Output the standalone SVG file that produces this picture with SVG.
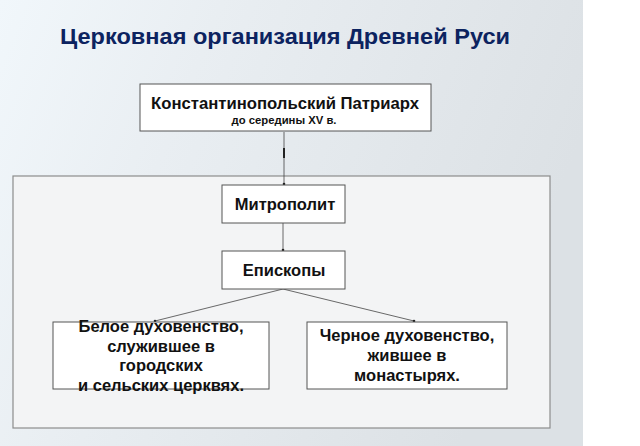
<svg xmlns="http://www.w3.org/2000/svg" width="640" height="446" viewBox="0 0 640 446">
<defs>
<linearGradient id="bg" x1="0" y1="0" x2="1" y2="0.3">
<stop offset="0" stop-color="#f1f7fb"/>
<stop offset="0.35" stop-color="#e9eef2"/>
<stop offset="1" stop-color="#dce1e5"/>
</linearGradient>
<marker id="dot" markerWidth="4" markerHeight="4" refX="2" refY="2" markerUnits="userSpaceOnUse">
<circle cx="2" cy="2" r="1.3" fill="#222"/>
</marker>
<style>
.box{fill:#ffffff;stroke:#555;stroke-width:1}
.t{font-family:"Liberation Sans",Arial,sans-serif;font-weight:bold;fill:#111;text-anchor:middle}
.c{stroke:#444;stroke-width:0.8;fill:none;marker-end:url(#dot)}
</style>
</defs>
<rect x="0" y="0" width="640" height="446" fill="#ffffff"/>
<rect x="0" y="0" width="583" height="446" fill="url(#bg)"/>
<text x="60" y="44" font-family="'Liberation Sans',Arial,sans-serif" font-weight="bold" font-size="22" fill="#0c2360" textLength="450" lengthAdjust="spacingAndGlyphs">Церковная организация Древней Руси</text>
<rect id="frame" x="13" y="176" width="537" height="252" fill="#f3f4f5" stroke="#8c8c8c" stroke-width="1.2"/>
<g id="connectors">
<line class="c" x1="284" y1="132" x2="284" y2="184"/>
<line x1="284" y1="148" x2="284" y2="158" stroke="#222" stroke-width="2"/>
<line class="c" x1="283" y1="223" x2="283" y2="250"/>
<line class="c" x1="283" y1="289" x2="155" y2="321"/>
<line class="c" x1="283" y1="289" x2="414" y2="321"/>
</g>
<g id="patriarch">
<rect class="box" x="140" y="84" width="291" height="47"/>
<text class="t" x="285" y="109" font-size="16.5" textLength="268" lengthAdjust="spacingAndGlyphs">Константинопольский Патриарх</text>
<text class="t" x="284" y="124" font-size="11.3">до середины XV в.</text>
</g>
<g id="metropolitan">
<rect class="box" x="222" y="185" width="123" height="38"/>
<text class="t" x="285" y="210" font-size="16.5">Митрополит</text>
</g>
<g id="bishops">
<rect class="box" x="222" y="251" width="123" height="38"/>
<text class="t" x="284" y="276" font-size="16.5">Епископы</text>
</g>
<g id="white-clergy">
<rect class="box" x="53" y="322" width="216" height="67"/>
<text class="t" font-size="16.5"><tspan x="161" y="332">Белое духовенство,</tspan><tspan x="161" y="352">служившее в</tspan><tspan x="161" y="371">городских</tspan><tspan x="161" y="391">и сельских церквях.</tspan></text>
</g>
<g id="black-clergy">
<rect class="box" x="307" y="322" width="200" height="67"/>
<text class="t" font-size="16.5"><tspan x="407" y="341">Черное духовенство,</tspan><tspan x="407" y="361">жившее в</tspan><tspan x="407" y="381">монастырях.</tspan></text>
</g>
</svg>
